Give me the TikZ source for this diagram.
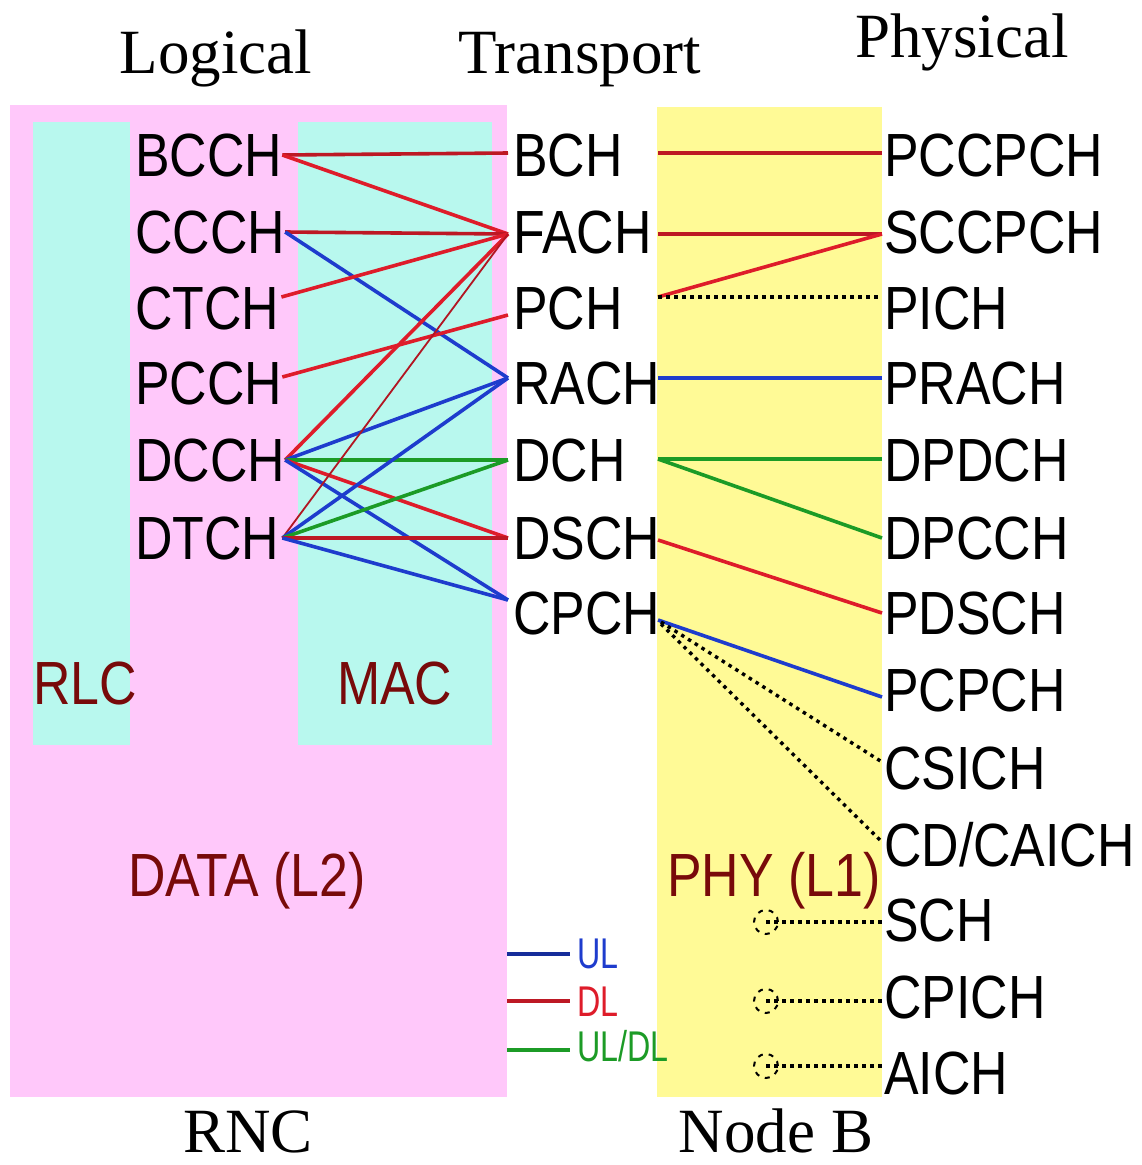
\documentclass[tikz,border=0pt]{standalone}
\usepackage{fontspec}
\setmainfont{Liberation Serif}
\newfontfamily\chanfont[FakeStretch=0.85]{Liberation Sans}
\newfontfamily\keyfont[FakeStretch=0.75]{Liberation Sans}
\usetikzlibrary{calc}

\definecolor{rncpink}{RGB}{255,200,250}
\definecolor{maccyan}{RGB}{184,248,238}
\definecolor{phyyellow}{RGB}{255,250,150}
\definecolor{layertext}{RGB}{120,10,10}
\definecolor{ulblue}{RGB}{30,60,205}
\definecolor{dlred}{RGB}{222,28,42}
\definecolor{bothgreen}{RGB}{28,155,38}

\begin{document}
\begin{tikzpicture}[x=1pt,y=-1pt,
  chan/.style={anchor=west, inner sep=0pt, font=\chanfont\fontsize{61}{61}\selectfont,
               text height=43.7pt, text depth=0pt},
  layer/.style={chan, text=layertext},
  heading/.style={anchor=base, inner sep=0pt, font=\fontsize{63}{63}\selectfont,
               text depth=0pt},
  keytext/.style={anchor=west, inner sep=0pt, font=\keyfont\fontsize{43}{43}\selectfont,
               text height=30pt, text depth=0pt},
  area/.style={anchor=north west, inner sep=0pt, outer sep=0pt},
  ul/.style={draw=ulblue, line width=3.6pt},
  dl/.style={draw=dlred, line width=3.6pt},
  dlthin/.style={draw=dlred!80!black, line width=1.8pt},
  both/.style={draw=bothgreen, line width=3.6pt},
  dots/.style={draw=black, line width=3.4pt, dash pattern=on 3.5pt off 4.5pt},
  ring/.style={draw=black, line width=2pt, dash pattern=on 5pt off 6pt}]

\useasboundingbox (0,0) rectangle (1142,1165);

% layer blocks
\node[area, fill=rncpink, minimum width=497pt, minimum height=992pt] (rnc) at (10,105) {};
\node[area, fill=maccyan, minimum width=97pt, minimum height=623pt] (rlcblk) at (33,122) {};
\node[area, fill=maccyan, minimum width=194pt, minimum height=623pt] (macblk) at (298,122) {};
\node[area, fill=phyyellow, minimum width=225pt, minimum height=990pt] (yel) at (657,107) {};

% block labels
\node[layer] (rlc) at (33,683) {RLC};
\node[layer] (mac) at (337,683) {MAC};
\node[layer] (data) at (128,875) {DATA (L2)};
\node[layer] (phy) at (667,875) {PHY (L1)};

% column headings
\node[heading] (hlog) at (216,73) {Logical};
\node[heading] (htr) at (580,73) {Transport};
\node[heading] (hphy) at (962,57) {Physical};
\node[heading] (hrnc) at (248,1152) {RNC};
\node[heading] (hnb) at (776,1152) {Node B};

% logical channels
\node[chan] (bcch) at (135,155) {BCCH};
\node[chan] (ccch) at (135,232) {CCCH};
\node[chan] (ctch) at (135,308) {CTCH};
\node[chan] (pcch) at (135,383) {PCCH};
\node[chan] (dcch) at (135,460) {DCCH};
\node[chan] (dtch) at (135,538) {DTCH};

% transport channels
\node[chan] (bch) at (513,155) {BCH};
\node[chan] (fach) at (513,232) {FACH};
\node[chan] (pch) at (513,308) {PCH};
\node[chan] (rach) at (513,383) {RACH};
\node[chan] (dch) at (513,460) {DCH};
\node[chan] (dsch) at (513,538) {DSCH};
\node[chan] (cpch) at (513,613) {CPCH};

% physical channels
\node[chan] (pccpch) at (884,155) {PCCPCH};
\node[chan] (sccpch) at (884,232) {SCCPCH};
\node[chan] (pich) at (884,308) {PICH};
\node[chan] (prach) at (884,383) {PRACH};
\node[chan] (dpdch) at (884,460) {DPDCH};
\node[chan] (dpcch) at (884,538) {DPCCH};
\node[chan] (pdsch) at (884,613) {PDSCH};
\node[chan] (pcpch) at (884,690) {PCPCH};
\node[chan] (csich) at (884,768) {CSICH};
\node[chan] (cdcaich) at (884,845) {CD/CAICH};
\node[chan] (sch) at (884,920) {SCH};
\node[chan] (cpich) at (884,997) {CPICH};
\node[chan] (aich) at (884,1073) {AICH};

% logical -> transport mapping
\draw[dl, draw=dlred!85!black] (bcch.east) -- ($(bch.west)+(-5,-2)$);
\draw[dl] (bcch.east) -- ($(fach.west)+(-5,2)$);
\draw[dl, draw=dlred!85!black] (ccch.east) -- ($(fach.west)+(-5,2)$);
\draw[ul] (ccch.east) -- ($(rach.west)+(-5,-5)$);
\draw[dl] ($(ctch.east)+(2,-11)$) -- ($(fach.west)+(-5,2)$);
\draw[dl] ($(pcch.east)+(0,-6)$) -- ($(pch.west)+(-5,7)$);
\draw[dl] (dcch.east) -- ($(fach.west)+(-5,2)$);
\draw[ul] (dcch.east) -- ($(rach.west)+(-5,-5)$);
\draw[both] (dcch.east) -- ($(dch.west)+(-5,0)$);
\draw[dl] (dcch.east) -- ($(dsch.west)+(-5,0)$);
\draw[ul] (dcch.east) -- ($(cpch.west)+(-5,-13)$);
\draw[dlthin] ($(dtch.east)+(3,0)$) -- ($(fach.west)+(-5,2)$);
\draw[ul] ($(dtch.east)+(3,0)$) -- ($(rach.west)+(-5,-5)$);
\draw[both] ($(dtch.east)+(3,0)$) -- ($(dch.west)+(-5,0)$);
\draw[dl, draw=dlred!85!black] ($(dtch.east)+(3,0)$) -- ($(dsch.west)+(-5,0)$);
\draw[ul] ($(dtch.east)+(3,0)$) -- ($(cpch.west)+(-5,-13)$);

% transport -> physical mapping
\draw[dl, draw=dlred!85!black] ($(yel.west |- bch)+(1,-2)$) -- ($(pccpch.west)+(-2,-2)$);
\draw[dl, draw=dlred!85!black] ($(yel.west |- fach)+(1,2)$) -- ($(sccpch.west)+(-2,2)$);
\draw[dl] ($(yel.west |- pch)+(1,-11)$) -- ($(sccpch.west)+(-2,2)$);
\draw[dots] ($(yel.west |- pch)+(1,-11)$) -- ($(pich.west)+(-2,-11)$);
\draw[ul] ($(yel.west |- rach)+(1,-5)$) -- ($(prach.west)+(-2,-5)$);
\draw[both] ($(yel.west |- dch)+(1,-1)$) -- ($(dpdch.west)+(-2,-1)$);
\draw[both] ($(yel.west |- dch)+(1,-1)$) -- ($(dpcch.west)+(-2,0)$);
\draw[dl] ($(yel.west |- dsch)+(1,2)$) -- ($(pdsch.west)+(-2,0)$);
\draw[ul] ($(yel.west |- cpch)+(1,7)$) -- ($(pcpch.west)+(-2,7)$);
\draw[dots] ($(yel.west |- cpch)+(4,9)$) -- ($(csich.west)+(-2,-6)$);
\draw[dots] ($(yel.west |- cpch)+(4,11)$) -- ($(cdcaich.west)+(-2,-3)$);

% synchronisation / pilot / acquisition channels
\coordinate (schsrc) at (766,922);
\coordinate (cpichsrc) at (766,1001);
\coordinate (aichsrc) at (766,1066);
\draw[ring] (schsrc) circle (12pt);
\draw[ring] (cpichsrc) circle (12pt);
\draw[ring] (aichsrc) circle (12pt);
\draw[dots] (schsrc) -- ($(schsrc -| sch.west)+(-2,0)$);
\draw[dots] (cpichsrc) -- ($(cpichsrc -| cpich.west)+(-2,0)$);
\draw[dots] (aichsrc) -- ($(aichsrc -| aich.west)+(-2,0)$);

% legend
\node[keytext, text=ulblue] (kul) at (577,953) {UL};
\node[keytext, text=dlred] (kdl) at (577,1001) {DL};
\node[keytext, text=bothgreen] (kboth) at (577,1046) {UL/DL};
\draw[ul, draw=ulblue!75!black] ($(kul.west)+(-70,1)$) -- ($(kul.west)+(-7,1)$);
\draw[dl, draw=dlred!85!black] ($(kdl.west)+(-70,0)$) -- ($(kdl.west)+(-7,0)$);
\draw[both] ($(kboth.west)+(-70,4)$) -- ($(kboth.west)+(-7,4)$);
\end{tikzpicture}
\end{document}
